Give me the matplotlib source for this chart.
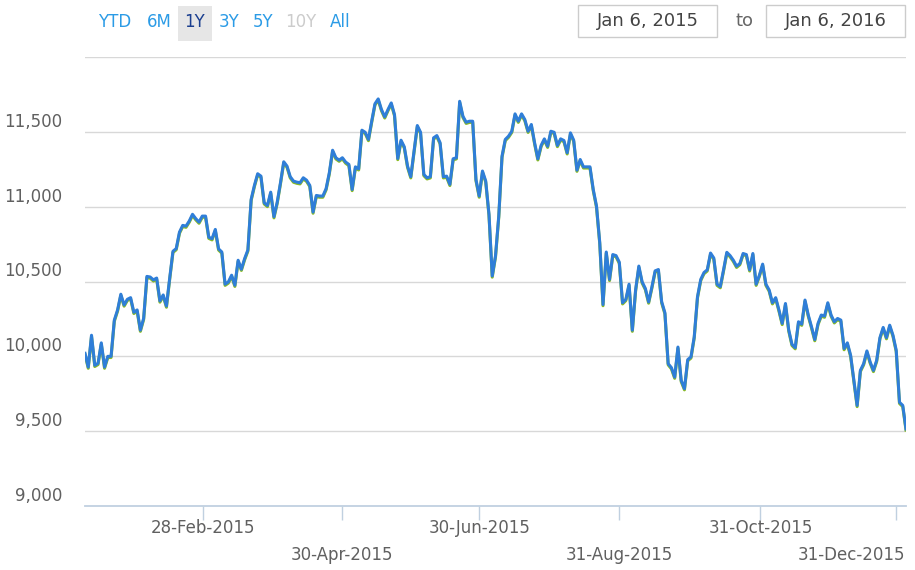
import numpy as np
import pandas as pd
import matplotlib
matplotlib.use("Agg")
import matplotlib.pyplot as plt
from matplotlib import transforms
from matplotlib.patches import Rectangle

# trading days (ordinal axis, as in the stock chart)
holidays = ["2015-01-19", "2015-02-16", "2015-04-03", "2015-05-25", "2015-07-03",
            "2015-09-07", "2015-11-26", "2015-12-25", "2016-01-01"]
dates = pd.bdate_range("2015-01-06", "2016-01-06", freq="C", holidays=holidays)

close = [10020, 9928, 10141, 9940, 9953, 10090, 9928, 10000, 10000, 10242,
         10310, 10415, 10343, 10381, 10392, 10294, 10310, 10175, 10254, 10534,
         10530, 10511, 10523, 10370, 10410, 10336, 10523, 10702, 10720, 10830,
         10875, 10870, 10904, 10949, 10920, 10897, 10937, 10937, 10796, 10786,
         10848, 10718, 10697, 10482, 10497, 10542, 10475, 10642, 10582, 10653,
         10711, 11049, 11142, 11220, 11204, 11026, 11008, 11097, 10933, 11030,
         11160, 11300, 11271, 11200, 11171, 11164, 11160, 11193, 11177, 11142,
         10964, 11075, 11071, 11071, 11120, 11227, 11377, 11327, 11311, 11327,
         11298, 11282, 11115, 11266, 11253, 11511, 11497, 11449, 11571, 11687,
         11720, 11649, 11600, 11649, 11693, 11615, 11322, 11444, 11400, 11271,
         11200, 11371, 11542, 11497, 11215, 11193, 11200, 11460, 11475, 11427,
         11200, 11204, 11149, 11320, 11327, 11704, 11604, 11564, 11571, 11571,
         11182, 11071, 11238, 11171, 10949, 10537, 10671, 10937, 11337, 11449,
         11471, 11504, 11620, 11571, 11620, 11582, 11504, 11549, 11427, 11320,
         11409, 11453, 11404, 11504, 11497, 11409, 11453, 11442, 11360, 11493,
         11444, 11244, 11315, 11266, 11266, 11266, 11115, 11004, 10760, 10346,
         10697, 10514, 10680, 10673, 10629, 10358, 10380, 10482, 10175, 10443,
         10603, 10498, 10453, 10363, 10463, 10571, 10580, 10365, 10291, 9951,
         9924, 9861, 10062, 9839, 9784, 9978, 9996, 10130, 10398, 10514,
         10560, 10578, 10690, 10657, 10482, 10466, 10578, 10695, 10673, 10642,
         10602, 10620, 10687, 10680, 10578, 10687, 10482, 10542, 10616, 10482,
         10443, 10358, 10392, 10310, 10220, 10353, 10177, 10080, 10058, 10231,
         10215, 10376, 10276, 10197, 10112, 10220, 10276, 10269, 10358, 10276,
         10231, 10253, 10242, 10052, 10090, 10007, 9839, 9672, 9906, 9951,
         10036, 9962, 9906, 9973, 10125, 10193, 10125, 10208, 10141, 10040,
         9693, 9672, 9515]

tick_dates = ["2015-02-28", "2015-04-30", "2015-06-30", "2015-08-31", "2015-10-31", "2015-12-31"]
tick_labels = ["28-Feb-2015", "30-Apr-2015", "30-Jun-2015", "31-Aug-2015", "31-Oct-2015", "31-Dec-2015"]
ytick_vals = [9000, 9500, 10000, 10500, 11000, 11500]
grid_vals = [9500, 10000, 10500, 11000, 11500, 12000]
buttons = ["YTD", "6M", "1Y", "3Y", "5Y", "10Y", "All"]
range_from = "Jan 6, 2015"
range_to = "Jan 6, 2016"

W, H = 915, 570
fig = plt.figure(figsize=(W / 100, H / 100), dpi=100)
fig.patch.set_facecolor("white")
ax = fig.add_axes([85 / W, 1 - 506 / H, (906 - 85) / W, (506 - 57) / H])

idx = np.arange(len(dates))
close = np.array(close[:len(dates)])
x = idx[:len(close)]

for v in grid_vals:
    ax.axhline(v, color="#D8D8D8", lw=1.0, zorder=1)

# green series sits one pixel under the blue one
down = transforms.offset_copy(ax.transData, fig=fig, x=0, y=-1.2, units="dots")
ax.plot(x, close, color="#8bbc21", lw=2.2, transform=down, zorder=2, solid_joinstyle="round")
ax.plot(x, close, color="#2f7ed8", lw=2.2, zorder=3, solid_joinstyle="round")

ax.set_xlim(0, len(dates) - 1)
ax.set_ylim(9000, 12000)
for s in ["top", "right", "left"]:
    ax.spines[s].set_visible(False)
ax.spines["bottom"].set_color("#C0D0E0")
ax.spines["bottom"].set_linewidth(1.3)
ax.set_yticks([])

tick_pos = np.interp(pd.to_datetime(tick_dates).asi8, dates.asi8, idx)
ax.set_xticks(tick_pos)
ax.set_xticklabels([])
ax.tick_params(axis="x", length=10, width=1, color="#C0D0E0", direction="out")

lab_col = "#606060"
ytrans = transforms.offset_copy(transforms.blended_transform_factory(ax.transAxes, ax.transData),
                                fig=fig, x=-23, y=10, units="dots")
for v in ytick_vals:
    ax.text(0, v, "{:,}".format(v), transform=ytrans, ha="right", va="center",
            fontsize=12, color=lab_col)

xb = transforms.blended_transform_factory(ax.transData, ax.transAxes)
for i, (p, t) in enumerate(zip(tick_pos, tick_labels)):
    dy = -22 if i % 2 == 0 else -49
    if i == len(tick_labels) - 1:
        tr = transforms.offset_copy(ax.transAxes, fig=fig, x=-1, y=dy, units="dots")
        ax.text(1, 0, t, transform=tr, ha="right", va="center", fontsize=12, color=lab_col)
    else:
        tr = transforms.offset_copy(xb, fig=fig, x=0, y=dy, units="dots")
        ax.text(p, 0, t, transform=tr, ha="center", va="center", fontsize=12, color=lab_col)

# range selector buttons
btn_x = [115, 159, 195, 229, 263, 301, 340]
btn_col = ["#2b9be6", "#2b9be6", "#1b3f8f", "#2b9be6", "#2b9be6", "#cccccc", "#2b9be6"]
fig.patches.append(Rectangle((178 / W, 1 - 41 / H), 34 / W, 35 / H, transform=fig.transFigure,
                             facecolor="#e6e6e6", edgecolor="none", zorder=0))
for bx, b, c in zip(btn_x, buttons, btn_col):
    fig.text(bx / W, 1 - 22 / H, b, ha="center", va="center", fontsize=12, color=c)

# date input boxes
for x0, txt in [(578, range_from), (766, range_to)]:
    fig.patches.append(Rectangle((x0 / W, 1 - 37 / H), 139 / W, 32 / H, transform=fig.transFigure,
                                 facecolor="white", edgecolor="#cccccc", lw=1.0))
    fig.text((x0 + 69.5) / W, 1 - 21 / H, txt, ha="center", va="center", fontsize=13, color="#444444")
fig.text(745 / W, 1 - 21 / H, "to", ha="center", va="center", fontsize=13, color="#666666")

fig.savefig("out.png", dpi=100, facecolor="white")
